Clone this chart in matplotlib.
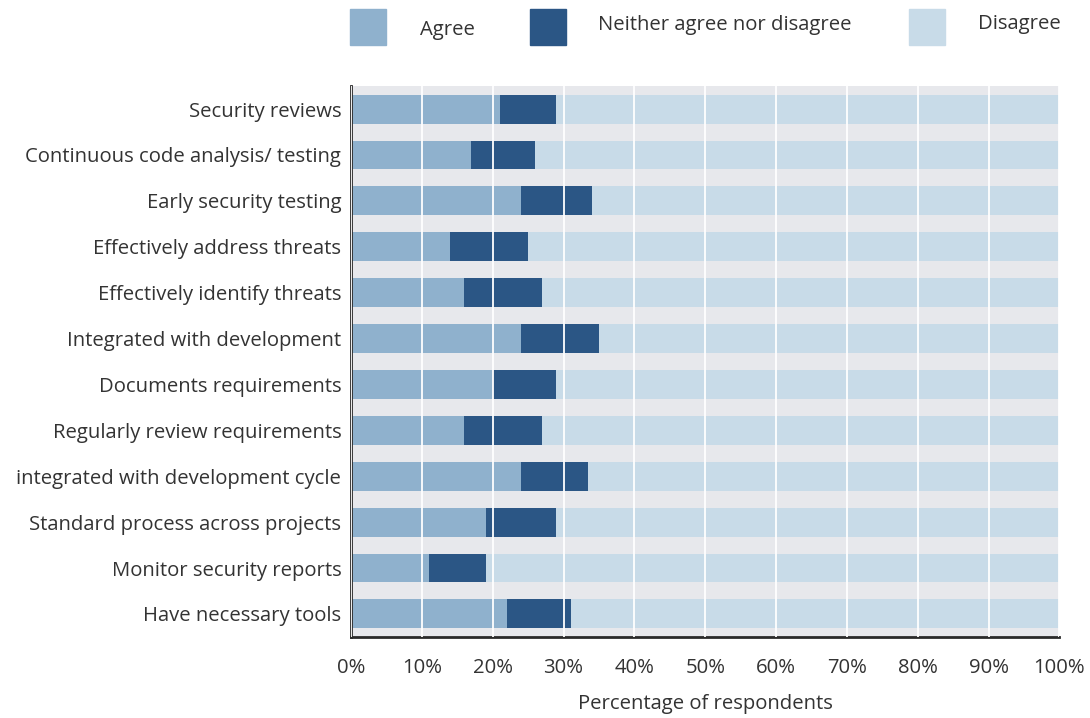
import matplotlib.pyplot as plt
from matplotlib.patches import Rectangle
import numpy as np

plt.rcParams['font.family'] = ['Open Sans', 'DejaVu Sans']

categories = [
    "Security reviews",
    "Continuous code analysis/ testing",
    "Early security testing",
    "Effectively address threats",
    "Effectively identify threats",
    "Integrated with development",
    "Documents requirements",
    "Regularly review requirements",
    "integrated with development cycle",
    "Standard process across projects",
    "Monitor security reports",
    "Have necessary tools",
]
agree = [21, 17, 24, 14, 16, 24, 20, 16, 24, 19, 11, 22]
neither = [8, 9, 10, 11, 11, 11, 9, 11, 9.5, 10, 8, 9]
disagree = [100 - a - n for a, n in zip(agree, neither)]

series = ["Agree", "Neither agree nor disagree", "Disagree"]
colors = ["#8fb1cd", "#2b5685", "#c8dbe8"]
txt = "#333333"
FS = 14.6

fig = plt.figure(figsize=(10.9, 7.18), dpi=100)
ax = fig.add_axes([0.322, 0.113, 0.650, 0.767])
ax.set_facecolor("#e7e8ec")

y = np.arange(len(categories))
left = np.zeros(len(categories))
for vals, col in zip([agree, neither, disagree], colors):
    ax.barh(y, vals, left=left, height=0.63, color=col, zorder=2)
    left += np.array(vals)

ax.set_xlim(0, 100)
ax.set_ylim(len(categories) - 0.5, -0.5)
ax.set_yticks(y)
ax.set_yticklabels(categories, fontsize=FS, color=txt)
ax.set_xticks(range(0, 101, 10))
ax.set_xticklabels([f"{v}%" for v in range(0, 101, 10)], fontsize=FS, color=txt)
ax.tick_params(axis="both", length=0)
ax.tick_params(axis="y", pad=7)
ax.tick_params(axis="x", pad=15)
ax.xaxis.grid(True, color="white", linewidth=1.3, zorder=3)
ax.set_axisbelow(False)
for s in ["top", "right"]:
    ax.spines[s].set_visible(False)
for s in ["left", "bottom"]:
    ax.spines[s].set_color("#2a2a2a")
    ax.spines[s].set_linewidth(2)
ax.set_xlabel("Percentage of respondents", fontsize=FS, color=txt, labelpad=12)

# legend on top, drawn by hand
W, H = 1090, 718
legend_items = [(350, 420, 30), (530, 598, 25), (909, 978, 24)]
for (sx, tx, ty), lab, col in zip(legend_items, series, colors):
    fig.add_artist(Rectangle((sx / W, 1 - 45 / H), 36 / W, 36 / H,
                             transform=fig.transFigure, color=col))
    fig.text(tx / W, 1 - ty / H, lab, fontsize=FS, color=txt,
             ha="left", va="center")

fig.savefig("out.png", dpi=100)
